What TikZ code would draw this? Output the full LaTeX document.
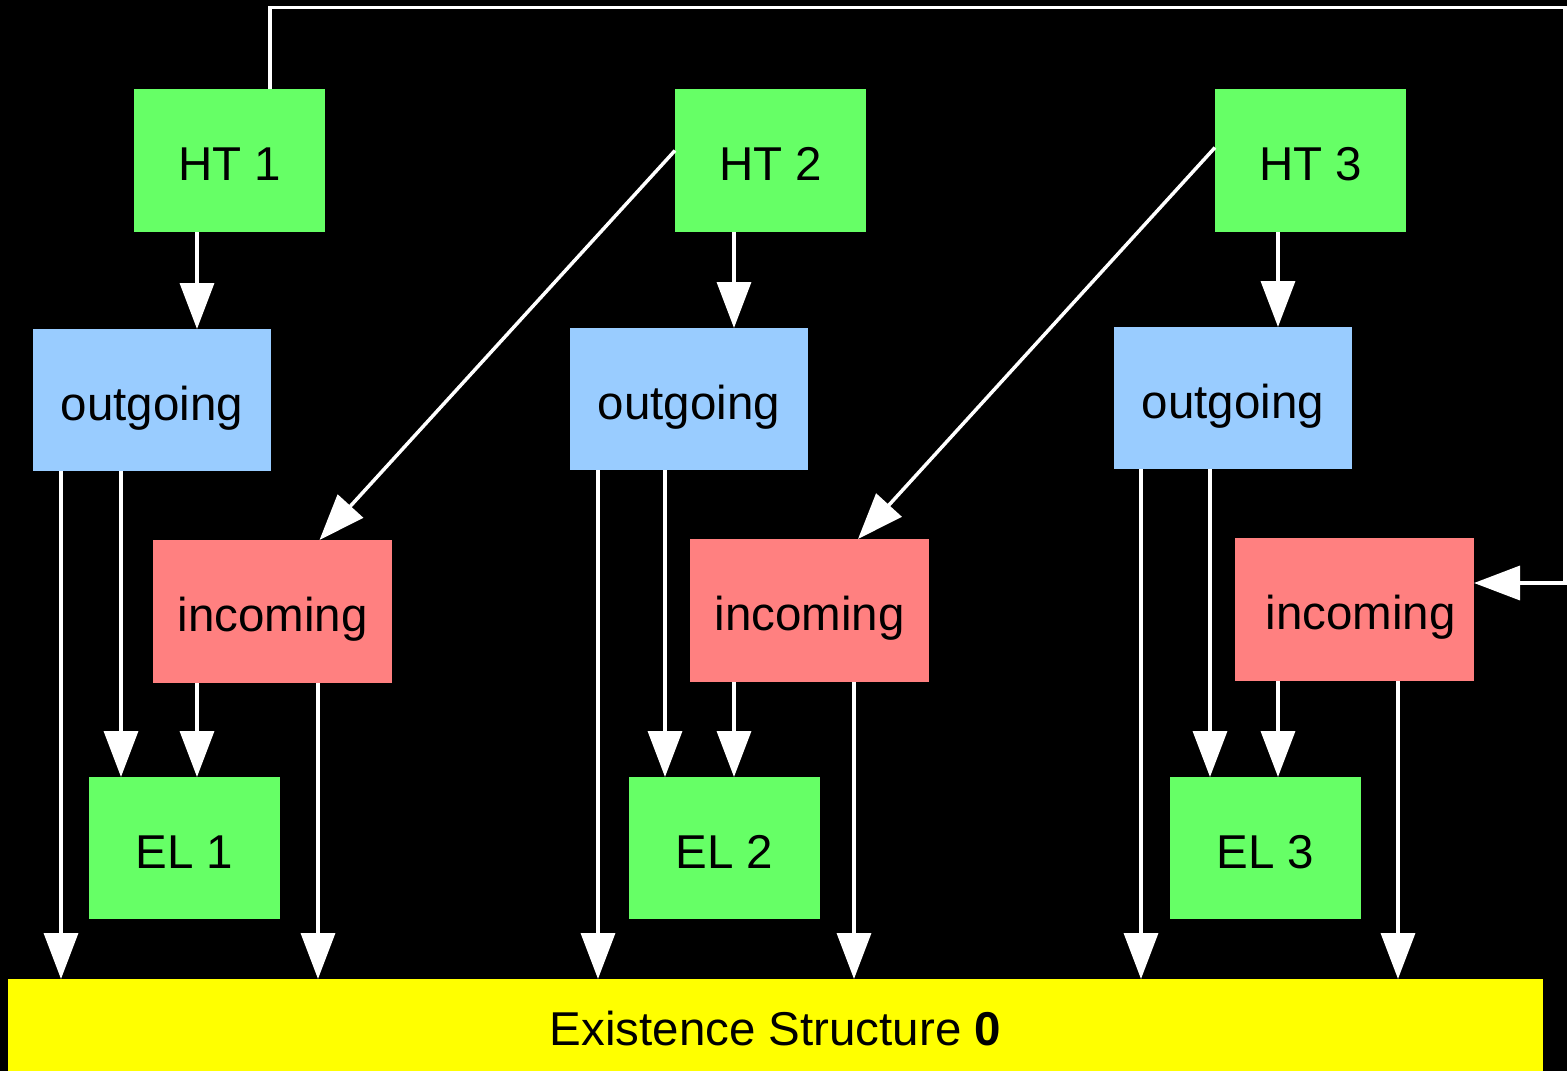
\documentclass[tikz,border=0pt]{standalone}
\usepackage{fontspec}
\setmainfont{Liberation Sans}
\usetikzlibrary{arrows.meta}
\begin{document}
\begin{tikzpicture}[x=1pt,y=-1pt,
  box/.style={anchor=north west,inner sep=0pt,outer sep=0pt,draw=none,
    text height=40pt,text depth=0pt,
    font=\fontsize{47.5}{56}\selectfont,text=black},
  htbox/.style={box,fill={rgb,255:red,102;green,255;blue,102},
    minimum width=191pt,minimum height=143pt},
  outbox/.style={box,fill={rgb,255:red,153;green,204;blue,255},
    minimum width=238pt,minimum height=142pt},
  inbox/.style={box,fill={rgb,255:red,255;green,128;blue,128},
    minimum width=239pt,minimum height=143pt},
  elbox/.style={box,fill={rgb,255:red,102;green,255;blue,102},
    minimum width=191pt,minimum height=142pt},
  esbox/.style={box,fill={rgb,255:red,255;green,255;blue,0},
    minimum width=1535pt,minimum height=92pt},
  arr/.style={draw=white,line width=3.5pt,
    -{Triangle[length=46pt,width=34pt,fill=white]}}]
  % canvas
  \fill[black] (0,0) rectangle (1567,1071);
  \useasboundingbox (0,0) rectangle (1567,1071);

  % hash tables
  \node[htbox] (ht1) at (134,89) {HT 1};
  \node[htbox] (ht2) at (675,89) {HT 2};
  \node[htbox] (ht3) at (1215,89) {HT 3};
  % outgoing lists
  \node[outbox] (out1) at (33,329) {outgoing};
  \node[outbox] (out2) at (570,328) {outgoing};
  \node[outbox] (out3) at (1114,327) {outgoing};
  % incoming lists
  \node[inbox] (in1) at (153,540) {incoming};
  \node[inbox] (in2) at (690,539) {incoming};
  \node[inbox] (in3) at (1235,538) {\hspace*{12pt}incoming};
  % element lists
  \node[elbox] (el1) at (89,777) {EL 1};
  \node[elbox] (el2) at (629,777) {EL 2};
  \node[elbox] (el3) at (1170,777) {EL 3};
  % existence structure
  \node[esbox] (es) at (8,979) {Existence Structure \textbf{0}};

  % column positions of the vertical connectors
  \foreach \n/\x in {a1/61,b1/121,c1/197,d1/318,
                     a2/598,b2/665,c2/734,d2/854,
                     a3/1141,b3/1210,c3/1278,d3/1398}
    \coordinate (\n) at (\x,0);

  \foreach \i in {1,2,3} {
    \draw[arr] (ht\i.south -| c\i) -- (out\i.north -| c\i);
    \draw[arr] (out\i.south -| b\i) -- (el\i.north -| b\i);
    \draw[arr] (in\i.south -| c\i) -- (el\i.north -| c\i);
    \draw[arr] (out\i.south -| a\i) -- (es.north -| a\i);
    \draw[arr] (in\i.south -| d\i) -- (es.north -| d\i);
  }

  % cross links
  \draw[arr] ([yshift=10pt]ht2.west) -- ([xshift=47pt]in1.north);
  \draw[arr] ([yshift=13pt]ht3.west) -- ([xshift=48.5pt]in2.north);

  % feedback link over the top
  \coordinate (corner) at (1565,7.5);
  \draw[arr] ([xshift=40.5pt]ht1.north) |- (corner)
    |- ([yshift=26.5pt]in3.east);
\end{tikzpicture}
\end{document}
